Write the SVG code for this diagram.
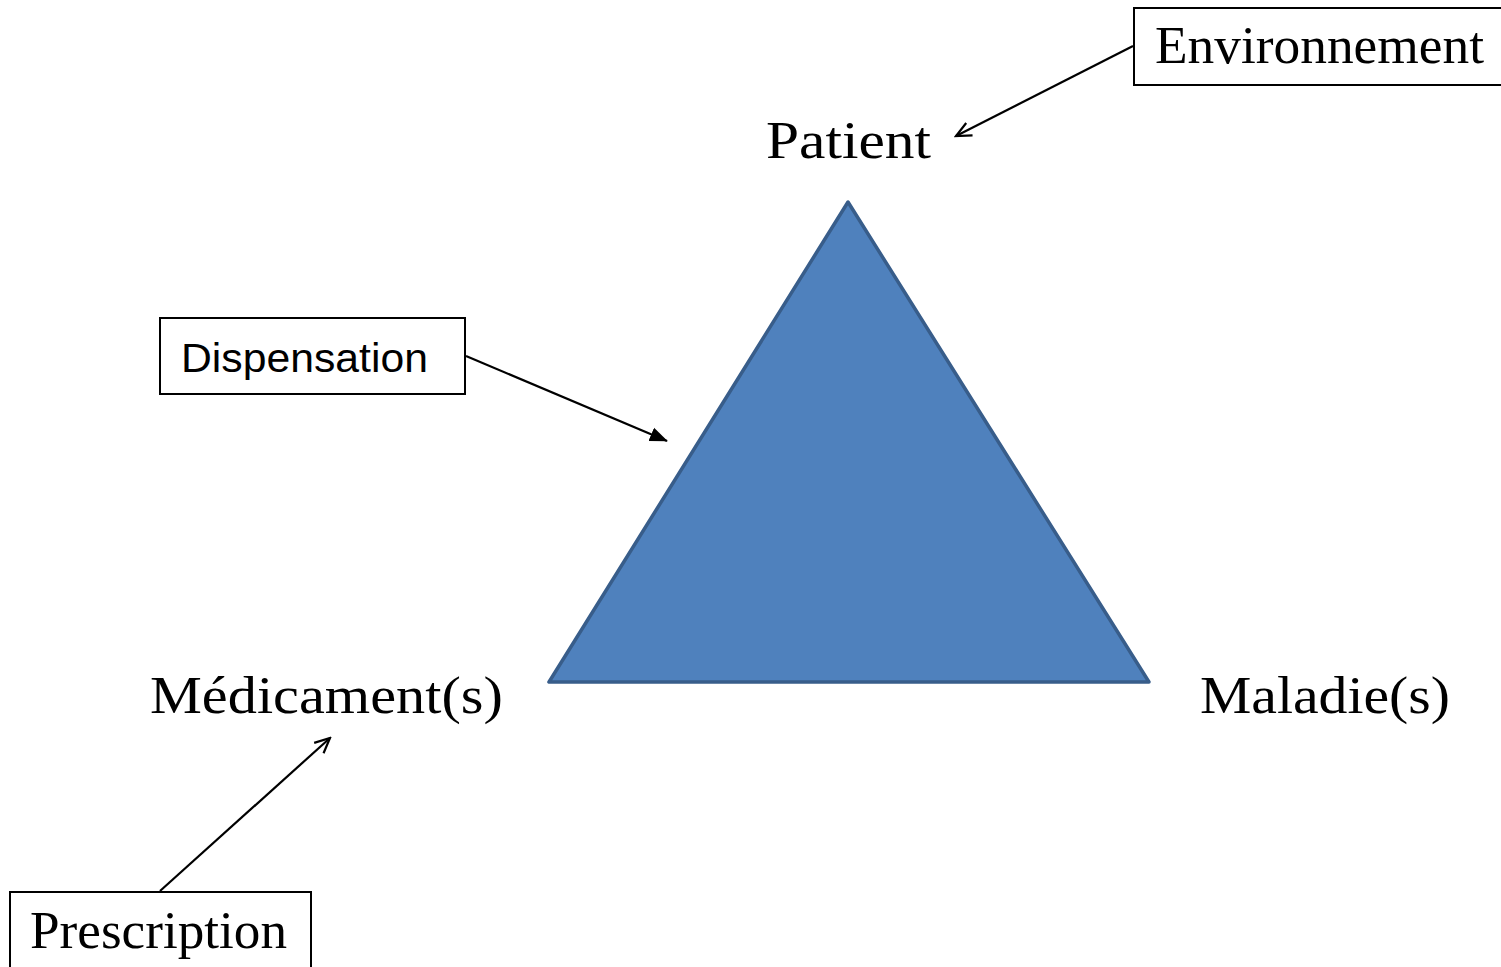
<svg xmlns="http://www.w3.org/2000/svg" width="1501" height="967" viewBox="0 0 1501 967">
  <style>
    .serif { font-family: "Liberation Serif", "DejaVu Serif", serif; font-size: 52px; fill: #000; }
    .sans { font-family: "Liberation Sans", "DejaVu Sans", sans-serif; font-size: 41px; fill: #000; }
    .box { fill: #fff; stroke: #000; stroke-width: 2; }
    .conn { stroke: #000; stroke-width: 2.2; fill: none; }
  </style>
  <defs>
    <marker id="open" viewBox="0 0 20 20" refX="18" refY="10" markerWidth="20" markerHeight="20" markerUnits="userSpaceOnUse" orient="auto">
      <path d="M3,3 L18,10 L3,17" fill="none" stroke="#000" stroke-width="2.2"/>
    </marker>
    <marker id="filled" viewBox="0 0 20 20" refX="19" refY="10" markerWidth="18" markerHeight="18" markerUnits="userSpaceOnUse" orient="auto">
      <path d="M0,2 L20,10 L0,18 Z" fill="#000"/>
    </marker>
  </defs>
  <rect width="1501" height="967" fill="#fff"/>

  <!-- central triangle -->
  <g id="triangle">
    <polygon points="848,202 549,682 1149,682" fill="#4F81BD" stroke="#385D8A" stroke-width="3.5" stroke-linejoin="round"/>
  </g>

  <g id="patient">
    <text class="serif" x="766" y="158" textLength="165" lengthAdjust="spacingAndGlyphs">Patient</text>
  </g>
  <g id="medicaments">
    <text class="serif" x="150" y="713" textLength="353" lengthAdjust="spacingAndGlyphs">Médicament(s)</text>
  </g>
  <g id="maladies">
    <text class="serif" x="1200" y="713" textLength="250" lengthAdjust="spacingAndGlyphs">Maladie(s)</text>
  </g>

  <g id="environnement">
    <rect class="box" x="1134" y="8" width="380" height="77"/>
    <text class="serif" x="1155" y="63" font-size="48" textLength="329" lengthAdjust="spacingAndGlyphs">Environnement</text>
  </g>
  <g id="dispensation">
    <rect class="box" x="160" y="318" width="305" height="76"/>
    <text class="sans" x="181" y="372" textLength="247" lengthAdjust="spacingAndGlyphs">Dispensation</text>
  </g>
  <g id="prescription">
    <rect class="box" x="10" y="892" width="301" height="90"/>
    <text class="serif" x="30" y="948" textLength="257" lengthAdjust="spacingAndGlyphs">Prescription</text>
  </g>

  <g id="connectors">
    <line class="conn" x1="1133" y1="46" x2="956" y2="136" marker-end="url(#open)"/>
    <line class="conn" x1="466" y1="356" x2="667" y2="441" marker-end="url(#filled)"/>
    <line class="conn" x1="160" y1="891" x2="330" y2="738" marker-end="url(#open)"/>
  </g>
</svg>
